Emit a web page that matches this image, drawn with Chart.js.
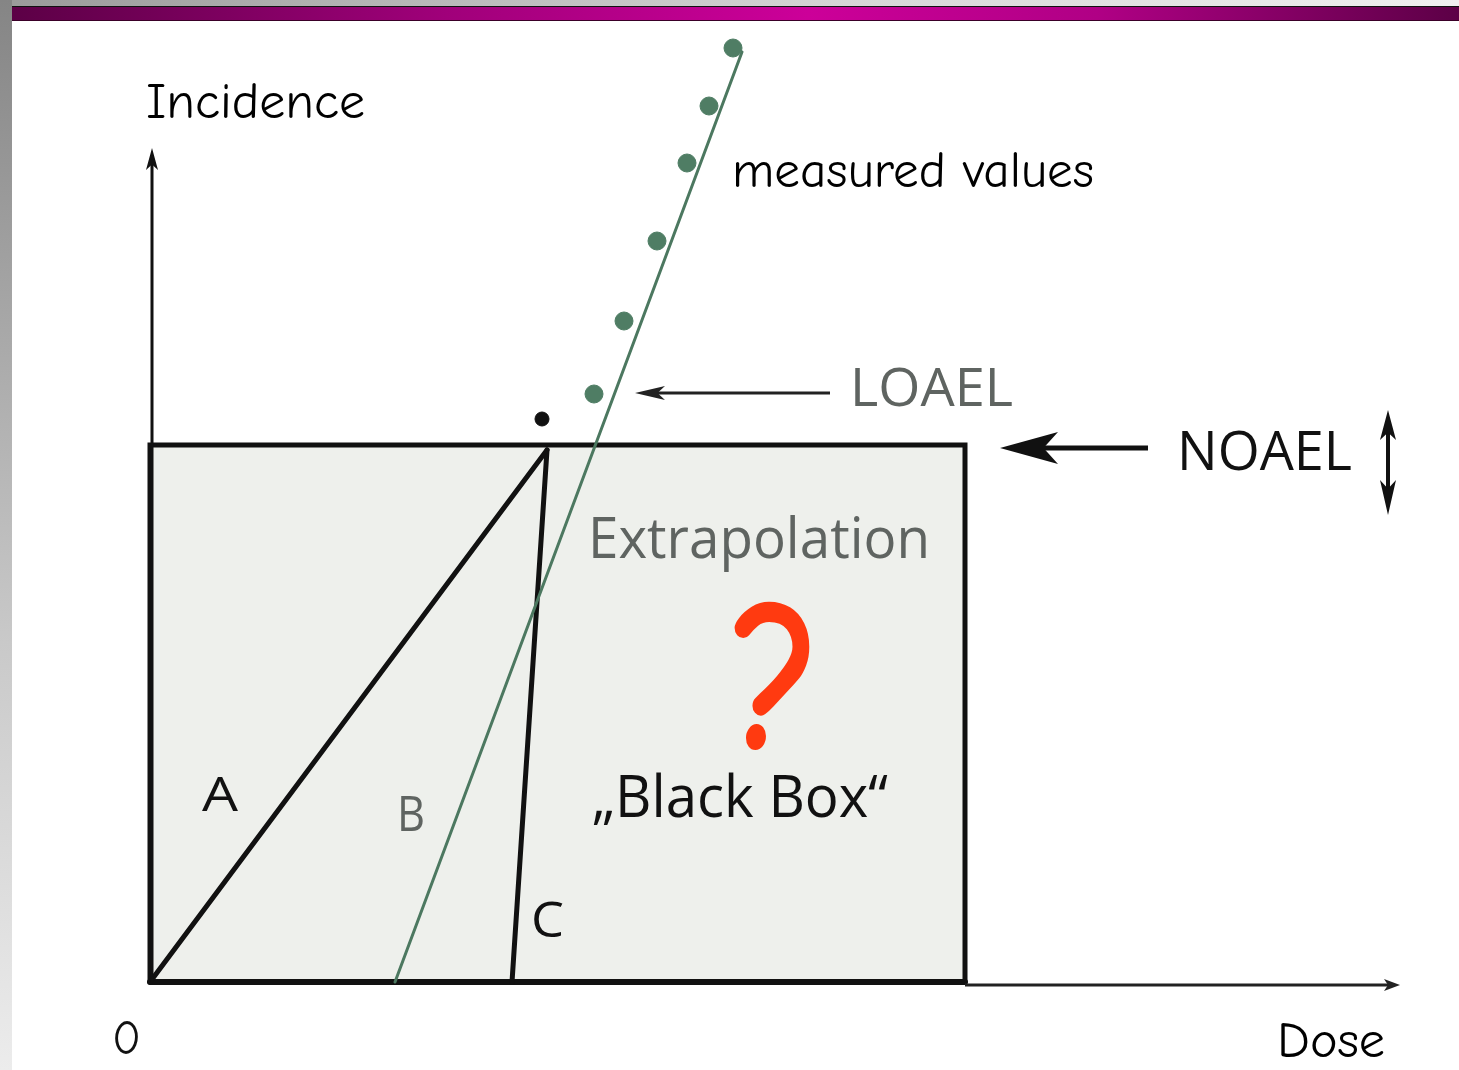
<!DOCTYPE html>
<html>
<head>
<meta charset="utf-8">
<script src="https://cdn.jsdelivr.net/npm/chart.js@4.4.1/dist/chart.umd.min.js"></script>
<style>
  html, body { margin: 0; padding: 0; background: #fff; }
  #wrap { position: relative; width: 1459px; height: 1070px; overflow: hidden; }
  #side { position: absolute; left: 0; top: 0; width: 12px; height: 1070px;
          background: linear-gradient(to bottom, #858585, #c9c9c9 60%, #ececec); z-index: 2; }
  #topgray { position: absolute; left: 0; top: 0; width: 1459px; height: 6px;
             background: linear-gradient(to right, #9a9a9a, #d8d8d8 60%, #f0f0f0); z-index: 1; }
  #bar { position: absolute; left: 12px; top: 6px; width: 1447px; height: 13px;
         border-top: 1px solid #111; border-bottom: 1px solid #3a0028;
         background: linear-gradient(to right, #5c0046, #a0007a 30%, #cc0099 55%, #b00085 75%, #5c0046); z-index: 3; }
  canvas { position: absolute; left: 0; top: 0; }
</style>
</head>
<body>
<div id="wrap">
  <div id="topgray"></div>
  <div id="side"></div>
  <div id="bar"></div>
  <canvas id="myChart" width="1459" height="1070"></canvas>
</div>
<script>
// dose / incidence values (arbitrary units)
var doseAxisMax = 12.5;
var incidenceAxisMax = 8.34;
var noael = 5.37;
var loael = 5.89;
var boxDoseMax = 8.15;

var measuredDose = [4.44, 4.74, 5.07, 5.37, 5.59, 5.83];
var measuredIncidence = [5.88, 6.61, 7.41, 8.19, 8.76, 9.34];

var lineADose = [0, 3.97];
var lineAIncidence = [0, 5.32];
var lineBDose = [2.45, 5.92];
var lineBIncidence = [0, 9.30];
var lineCDose = [3.97, 3.62];
var lineCIncidence = [5.32, 0];

var loaelDotDose = [3.92];
var loaelDotIncidence = [5.63];

function pts(xs, ys) {
  var out = [];
  for (var i = 0; i < xs.length; i++) out.push({ x: xs[i], y: ys[i] });
  return out;
}

var green = '#4c7860';
var grayText = '#5f6461';

function arrow(ctx, x1, y1, x2, y2, headLen, headHalf, lw, color) {
  var ang = Math.atan2(y2 - y1, x2 - x1);
  ctx.save();
  ctx.strokeStyle = color;
  ctx.fillStyle = color;
  ctx.lineWidth = lw;
  ctx.beginPath();
  ctx.moveTo(x1, y1);
  ctx.lineTo(x2 - Math.cos(ang) * headLen * 0.6, y2 - Math.sin(ang) * headLen * 0.6);
  ctx.stroke();
  ctx.translate(x2, y2);
  ctx.rotate(ang);
  ctx.beginPath();
  ctx.moveTo(0, 0);
  ctx.lineTo(-headLen, -headHalf);
  ctx.lineTo(-headLen * 0.75, 0);
  ctx.lineTo(-headLen, headHalf);
  ctx.closePath();
  ctx.fill();
  ctx.restore();
}

function label(ctx, text, x, y, font, color, width) {
  ctx.save();
  ctx.font = font;
  ctx.fillStyle = color;
  ctx.textBaseline = 'middle';
  ctx.textAlign = 'left';
  var w = ctx.measureText(text).width;
  ctx.translate(x, y);
  if (width) ctx.scale(width / w, 1);
  ctx.fillText(text, 0, 0);
  ctx.restore();
}

var comic = '"Comic Sans MS", "Comic Neue", "DejaVu Sans", sans-serif';
var gill = '"Open Sans", "Noto Sans", sans-serif';

var decorations = {
  id: 'decorations',
  afterDatasetsDraw: function (chart) {
    var ctx = chart.ctx;
    var sx = chart.scales.x, sy = chart.scales.y;
    var X = function (v) { return sx.getPixelForValue(v); };
    var Y = function (v) { return sy.getPixelForValue(v); };

    // axes
    arrow(ctx, X(0.02), Y(0), X(0.02), Y(incidenceAxisMax), 22, 6, 3, '#111');
    arrow(ctx, X(boxDoseMax), Y(-0.03), X(doseAxisMax), Y(-0.03), 16, 6, 3, '#222');

    // LOAEL / NOAEL arrows
    arrow(ctx, X(6.8), Y(loael), X(4.85), Y(loael), 30, 7, 3, '#222');
    arrow(ctx, X(9.98), Y(noael - 0.03), X(8.5), Y(noael - 0.03), 58, 16, 5, '#111');
    var dx = X(12.38);
    arrow(ctx, dx, Y(4.9), dx, Y(5.72), 30, 8, 4, '#111');
    arrow(ctx, dx, Y(5.3), dx, Y(4.67), 35, 8, 4, '#111');

    // texts
    label(ctx, 'Incidence', 146, 104, '50px ' + comic, '#000', 219);
    label(ctx, 'measured values', 732, 173, '50px ' + comic, '#000', 362);
    label(ctx, 'LOAEL', 850, 391, '53px ' + gill, grayText, 163);
    label(ctx, 'NOAEL', 1177, 455, '54px ' + gill, '#111', 175);
    label(ctx, 'Extrapolation', 588, 542, '56px ' + gill, grayText, 342);
    label(ctx, '?', 731, 688, 'bold 215px ' + comic, '#ff3a10', 90);
    label(ctx, '\u201EBlack Box\u201C', 592, 800, '58px ' + gill, '#111', 296);
    label(ctx, 'A', 202, 797, '48px ' + gill, '#111', 36);
    label(ctx, 'B', 397, 817, '50px ' + gill, grayText, 28);
    label(ctx, 'C', 531, 923, '50px ' + gill, '#111', 33);
    label(ctx, '0', 112, 1040, '48px ' + comic, '#111', 29);
    label(ctx, 'Dose', 1277, 1043, '50px ' + comic, '#000', 108);
  }
};

var ctx = document.getElementById('myChart');
var myChart = new Chart(ctx, {
  type: 'scatter',
  data: {
    datasets: [
      {
        label: 'black box',
        data: pts([0, 0, boxDoseMax, boxDoseMax], [0, noael, noael, 0]),
        showLine: true,
        borderColor: '#111',
        borderWidth: 5,
        backgroundColor: '#eef0ec',
        fill: 'origin',
        pointRadius: 0,
        order: 5
      },
      {
        label: 'box bottom',
        data: pts([0, boxDoseMax], [0, 0]),
        showLine: true, borderColor: '#111', borderWidth: 6, pointRadius: 0, order: 4
      },
      {
        label: 'A',
        data: pts(lineADose, lineAIncidence),
        showLine: true, borderColor: '#111', borderWidth: 5, pointRadius: 0, order: 3
      },
      {
        label: 'C',
        data: pts(lineCDose, lineCIncidence),
        showLine: true, borderColor: '#111', borderWidth: 5, pointRadius: 0, order: 3
      },
      {
        label: 'B',
        data: pts(lineBDose, lineBIncidence),
        showLine: true, borderColor: green, borderWidth: 3, pointRadius: 0, order: 2
      },
      {
        label: 'measured values',
        data: pts(measuredDose, measuredIncidence),
        showLine: false, backgroundColor: '#4f7d64', borderColor: '#4f7d64',
        pointRadius: 9, order: 1
      },
      {
        label: 'LOAEL',
        data: pts(loaelDotDose, loaelDotIncidence),
        showLine: false, backgroundColor: '#111', borderColor: '#111',
        pointRadius: 7, order: 1
      }
    ]
  },
  options: {
    responsive: false,
    animation: false,
    clip: false,
    layout: { padding: { left: 150, right: 59, top: 48, bottom: 88 } },
    scales: {
      x: { type: 'linear', min: 0, max: doseAxisMax, display: false },
      y: { type: 'linear', min: 0, max: 9.34, display: false }
    },
    plugins: {
      legend: { display: false },
      tooltip: { enabled: false },
      filler: { propagate: false }
    },
    elements: { line: { tension: 0, borderCapStyle: 'round' } }
  },
  plugins: [decorations]
});
</script>
</body>
</html>
